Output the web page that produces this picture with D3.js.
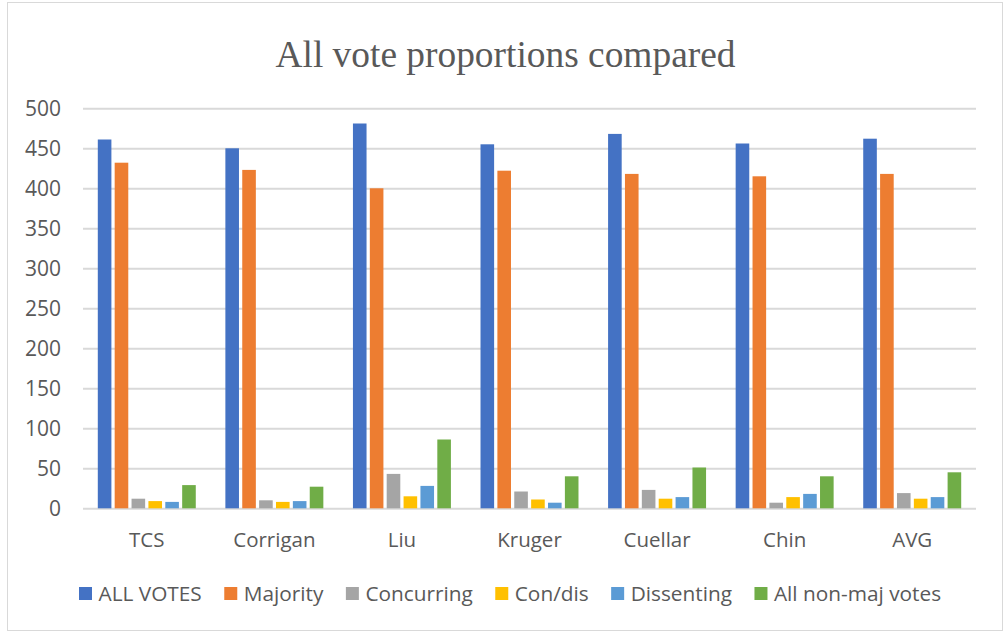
<!DOCTYPE html>
<html>
<head>
<meta charset="utf-8">
<script src="https://cdn.jsdelivr.net/npm/d3@7"></script>
<style>
  html, body { margin: 0; padding: 0; background: #fff; }
  svg { display: block; }
</style>
</head>
<body>
<svg id="chart" width="1005" height="635"></svg>
<script>
const title = "All vote proportions compared";
const categories = ["TCS", "Corrigan", "Liu", "Kruger", "Cuellar", "Chin", "AVG"];
const seriesNames = ["ALL VOTES", "Majority", "Concurring", "Con/dis", "Dissenting", "All non-maj votes"];
const allVotes   = [461, 450, 481, 455, 468, 456, 462];
const majority   = [432, 423, 400, 422, 418, 415, 418];
const concurring = [12, 10, 43, 21, 23, 7, 19];
const conDis     = [9, 8, 15, 11, 12, 14, 12];
const dissenting = [8, 9, 28, 7, 14, 18, 14];
const nonMaj     = [29, 27, 86, 40, 51, 40, 45];
const yTicks = [0, 50, 100, 150, 200, 250, 300, 350, 400, 450, 500];
const colors = ["#4472C4", "#ED7D31", "#A5A5A5", "#FFC000", "#5B9BD5", "#70AD47"];

const seriesValues = [allVotes, majority, concurring, conDis, dissenting, nonMaj];

const svg = d3.select("#chart");
const textColor = "#595959";
const font = "'Open Sans', 'Noto Sans', sans-serif";

// outer border
svg.append("rect").attr("x", 7.5).attr("y", 2.5).attr("width", 995).attr("height", 628)
  .attr("fill", "#fff").attr("stroke", "#D9D9D9").attr("stroke-width", 1);

// title
svg.append("text").attr("x", 505.5).attr("y", 67).attr("text-anchor", "middle")
  .attr("font-family", "'Liberation Serif', 'Times New Roman', serif")
  .attr("font-size", 37.4).attr("fill", textColor).text(title);

const plotLeft = 83, plotRight = 976;
const x0 = d3.scaleBand().domain(categories).range([plotLeft, plotRight])
  .paddingInner(0.232).paddingOuter(0.116);
const x1 = d3.scaleBand().domain(seriesNames).range([0, x0.bandwidth()])
  .paddingInner(0.194).paddingOuter(0);
const y = d3.scaleLinear().domain([0, 500]).range([508.3, 108.3]);

// gridlines
const yAxis = d3.axisLeft(y).tickValues(yTicks).tickSize(-(plotRight - plotLeft)).tickPadding(22);
const gy = svg.append("g").attr("transform", `translate(${plotLeft},0)`).call(yAxis);
gy.select(".domain").remove();
gy.selectAll(".tick line").attr("stroke", "#D9D9D9").attr("stroke-width", 2);
gy.selectAll(".tick text").attr("font-family", font).attr("font-size", 21)
  .attr("fill", textColor).attr("dy", "0.36em");

// bars
const groups = svg.append("g").selectAll("g").data(categories).join("g")
  .attr("transform", d => `translate(${x0(d)},0)`);
groups.selectAll("rect")
  .data((c, ci) => seriesNames.map((s, si) => ({ s, si, v: seriesValues[si][ci] })))
  .join("rect")
  .attr("x", d => x1(d.s))
  .attr("width", x1.bandwidth())
  .attr("y", d => y(d.v))
  .attr("height", d => y(0) - y(d.v))
  .attr("fill", d => colors[d.si]);

// x axis labels
const xAxis = d3.axisBottom(x0).tickSize(0).tickPadding(0);
const gx = svg.append("g").attr("transform", `translate(0,${y(0)})`).call(xAxis);
gx.select(".domain").remove();
gx.selectAll(".tick text").attr("font-family", font).attr("font-size", 20.5)
  .attr("fill", textColor).attr("y", 38.5).attr("dy", 0);

// legend
const legend = svg.append("g");
let lx = 79;
seriesNames.forEach((s, i) => {
  legend.append("rect").attr("x", lx).attr("y", 587).attr("width", 13).attr("height", 13)
    .attr("fill", colors[i]);
  const t = legend.append("text").attr("x", lx + 19.5).attr("y", 600.5)
    .attr("font-family", font).attr("font-size", 20.8).attr("fill", textColor).text(s);
  lx += 19.5 + t.node().getComputedTextLength() + 22.5;
});
</script>
</body>
</html>
